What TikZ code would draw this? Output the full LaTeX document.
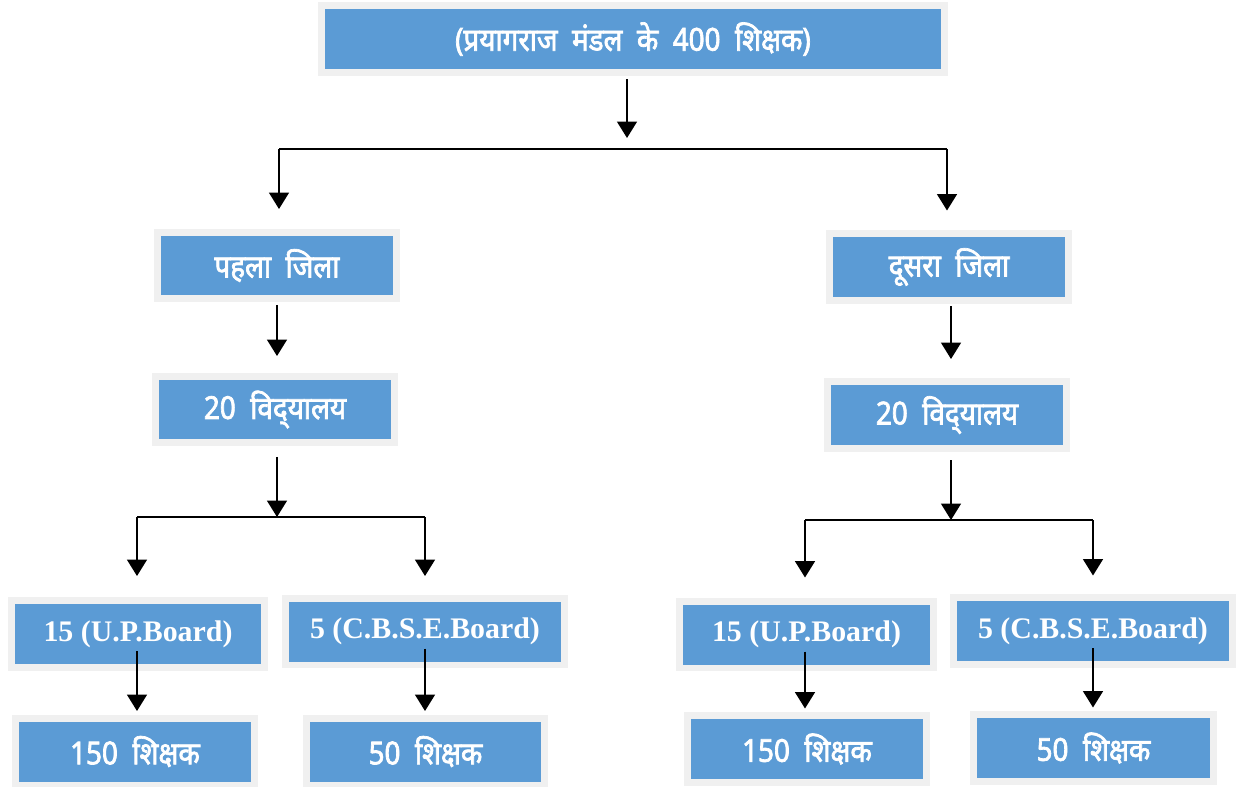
\documentclass[tikz,border=0pt]{standalone}
\usepackage{fontspec}
\setmainfont{Liberation Serif}
\newfontfamily\hindi[Script=Devanagari,WordSpace=2,FakeBold=2.2,FakeStretch=0.88]{Noto Sans}
\usetikzlibrary{arrows.meta}
\definecolor{boxblue}{HTML}{5B9BD5}
\definecolor{boxframe}{HTML}{F0F0F0}

\begin{document}
\begin{tikzpicture}[x=0.02cm,y=-0.02cm]
    \tikzstyle{box}=[fill=boxblue,draw=boxframe,line width=0.14cm,inner sep=0pt,minimum height=1.34cm,text=white]
    \tikzstyle{hindi box}=[box,font=\hindi\fontsize{18}{20}\selectfont]
    \tikzstyle{board box}=[box,font=\bfseries\fontsize{17}{19}\selectfont]
    \tikzstyle{vector}=[-{Triangle[width=0.4cm,length=0.33cm]},line width=0.035cm,color=black]
    \tikzstyle{branch}=[line width=0.035cm,color=black]

    \useasboundingbox (0,0) rectangle (1240,787);

    % Top
    \node[style=hindi box,minimum width=12.46cm] (mandal) at (633,39) {(प्रयागराज मंडल के 400 शिक्षक)};

    % Districts
    \node[style=hindi box,minimum width=4.78cm] (jila1) at (277,265.5) {पहला जिला};
    \node[style=hindi box,minimum width=4.78cm] (jila2) at (949,267) {दूसरा जिला};

    % Schools
    \node[style=hindi box,minimum width=4.78cm] (school1) at (275,409.5) {20 विद्^^^^200cयालय};
    \node[style=hindi box,minimum width=4.78cm] (school2) at (947,415) {20 विद्^^^^200cयालय};

    % Boards
    \node[style=board box,minimum width=5.06cm] (up1) at (138,634) {15 (U.P.Board)};
    \node[style=board box,minimum width=5.58cm] (cbse1) at (425,631.5) {5 (C.B.S.E.Board)};
    \node[style=board box,minimum width=5.08cm] (up2) at (806.5,634.5) {15 (U.P.Board)};
    \node[style=board box,minimum width=5.58cm] (cbse2) at (1093,631) {5 (C.B.S.E.Board)};

    % Teachers
    \node[style=hindi box,minimum width=4.78cm] (teach1) at (135,751.5) {150 शिक्षक};
    \node[style=hindi box,minimum width=4.76cm] (teach2) at (425.5,751.5) {50 शिक्षक};
    \node[style=hindi box,minimum width=4.78cm] (teach3) at (807,749) {150 शिक्षक};
    \node[style=hindi box,minimum width=4.80cm] (teach4) at (1093.5,748) {50 शिक्षक};

    \coordinate (top tip) at (627,138);
    \coordinate (busL) at (279,149);
    \coordinate (busR) at (947,149);
    \coordinate (bus1 mid) at (277,517);
    \coordinate (bus1L) at (137,517);
    \coordinate (bus1R) at (425,517);
    \coordinate (bus2 mid) at (951,520);
    \coordinate (bus2L) at (805,520);
    \coordinate (bus2R) at (1093,520);

    % Top to districts
    \draw[style=vector,shorten <=0.07cm] (top tip |- mandal.south) -- (top tip);
    \draw[style=branch] (busL) -- (busR);
    \draw[style=vector,shorten >=0.39cm] (busL) -- (busL |- jila1.north);
    \draw[style=vector,shorten >=0.39cm] (busR) -- (busR |- jila2.north);

    % Districts to schools
    \draw[style=vector,shorten <=0.05cm,shorten >=0.33cm] (jila1.south) -- (jila1.south |- school1.north);
    \draw[style=vector,shorten <=0.05cm,shorten >=0.38cm] (jila2.south -| bus2 mid) -- (bus2 mid |- school2.north);

    % Left schools to boards
    \draw[style=vector,shorten <=0.21cm] (bus1 mid |- school1.south) -- (bus1 mid);
    \draw[style=branch] (bus1L) -- (bus1R);
    \draw[style=vector,shorten >=0.42cm] (bus1L) -- (bus1L |- up1.north);
    \draw[style=vector,shorten >=0.37cm] (bus1R) -- (bus1R |- cbse1.north);

    % Right schools to boards
    \draw[style=vector,shorten <=0.17cm] (bus2 mid |- school2.south) -- (bus2 mid);
    \draw[style=branch] (bus2L) -- (bus2R);
    \draw[style=vector,shorten >=0.4cm] (bus2L) -- (bus2L |- up2.north);
    \draw[style=vector,shorten >=0.37cm] (bus2R) -- (bus2R |- cbse2.north);

    % Boards to teachers
    \draw[style=vector,shorten <=0.34cm,shorten >=0.07cm] (bus1L |- up1.center) -- (bus1L |- teach1.north);
    \draw[style=vector,shorten <=0.34cm,shorten >=0.07cm] (bus1R |- cbse1.center) -- (bus1R |- teach2.north);
    \draw[style=vector,shorten <=0.34cm,shorten >=0.07cm] (bus2L |- up2.center) -- (bus2L |- teach3.north);
    \draw[style=vector,shorten <=0.34cm,shorten >=0.07cm] (bus2R |- cbse2.center) -- (bus2R |- teach4.north);

\end{tikzpicture}
\end{document}
